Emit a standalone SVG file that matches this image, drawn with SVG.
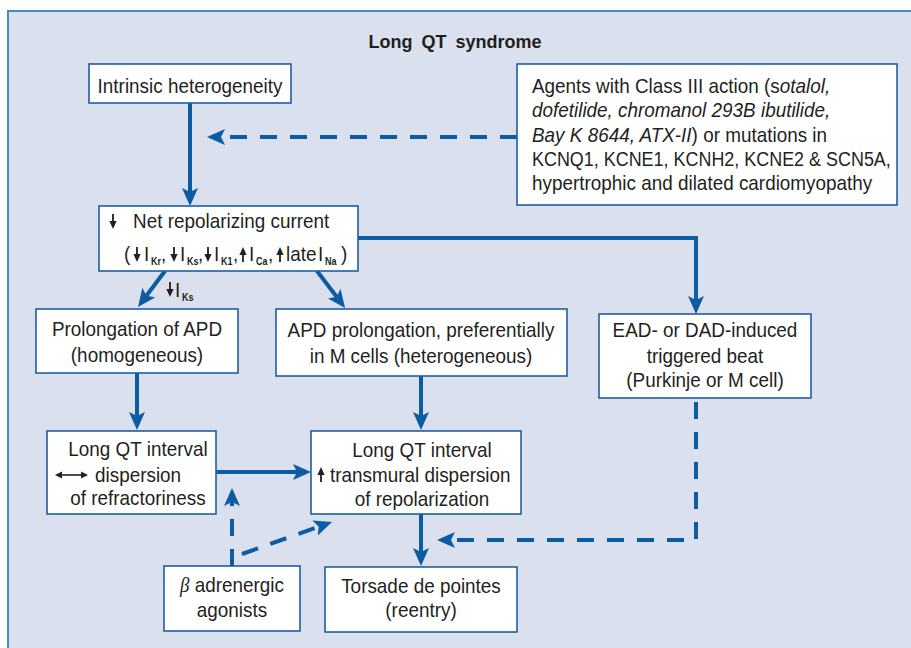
<svg xmlns="http://www.w3.org/2000/svg" width="911" height="648" viewBox="0 0 911 648">
<style>
text{font-family:"Liberation Sans",Arial,sans-serif;font-size:21px;fill:#231f20;transform:scaleX(0.9);transform-box:fill-box;transform-origin:left center}
text.c{text-anchor:middle;transform-origin:center center}
text.t{font-weight:bold;font-size:18px;transform:none}
text.n{transform:scaleX(0.855)}
.it{font-style:italic}
text.sub{font-size:11px;font-weight:bold;transform:scaleX(0.82)}
.box{fill:#fff;stroke:#1d5fa0;stroke-width:1.6}
.ln{fill:none;stroke:#0b5ca3;stroke-width:4}
.da{stroke-dasharray:17 13}
.sym{fill:#231f20;stroke:none}
</style>
<defs>
<marker id="ah" viewBox="0 0 18 16" refX="4" refY="8" markerWidth="18" markerHeight="16" markerUnits="userSpaceOnUse" orient="auto">
<path d="M0,0 L18,8 L0,16 L4,8 z" fill="#0b5ca3"/>
</marker>
<g id="dn"><rect x="-0.9" y="-15" width="1.8" height="9" fill="#231f20"/><path d="M-3.6,-8 L3.6,-8 L0,0 z" fill="#231f20"/></g>
<g id="up"><rect x="-0.9" y="-9" width="1.8" height="9" fill="#231f20"/><path d="M-3.6,-7 L3.6,-7 L0,-15 z" fill="#231f20"/></g>
</defs>
<rect x="8" y="11" width="930" height="660" fill="#dae0ee" stroke="#4a88c4" stroke-width="2"/>
<text x="455" y="48" class="c t" word-spacing="4">Long QT syndrome</text>

<g id="connectors">
<path class="ln" d="M190,103 V192" marker-end="url(#ah)"/>
<path class="ln da" d="M517,137 H221" marker-end="url(#ah)"/>
<path class="ln" d="M358,238 H696 V300" marker-end="url(#ah)"/>
<path class="ln" d="M165,271 L146.4,295.8" marker-end="url(#ah)"/>
<path class="ln" d="M317,271 L336.6,296.8" marker-end="url(#ah)"/>
<path class="ln" d="M137,373 V416" marker-end="url(#ah)"/>
<path class="ln" d="M421,376 V416" marker-end="url(#ah)"/>
<path class="ln" d="M216,472 H297" marker-end="url(#ah)"/>
<path class="ln" d="M421,514 V552" marker-end="url(#ah)"/>
<path class="ln da" d="M696,402 V540 H451" marker-end="url(#ah)"/>
<path class="ln da" d="M232,566 V502" marker-end="url(#ah)"/>
<path class="ln da" d="M242,554 L318.8,526.7" marker-end="url(#ah)"/>
<use href="#dn" x="170" y="297"/>
<text x="175" y="297">I</text><text x="182" y="301" class="sub">Ks</text>
</g>

<g id="intrinsic">
<rect class="box" x="89" y="64" width="202" height="39"/>
<text x="190" y="93" class="c">Intrinsic heterogeneity</text>
</g>

<g id="agents">
<rect class="box" x="517" y="64" width="380" height="141"/>
<text x="532" y="93">Agents with Class III action (s<tspan class="it">otalol,</tspan></text>
<text x="532" y="117" class="it">dofetilide, chromanol 293B ibutilide,</text>
<text x="532" y="142"><tspan class="it">Bay K 8644, ATX-II</tspan>) or mutations in</text>
<text x="532" y="166" class="n">KCNQ1, KCNE1, KCNH2, KCNE2 &amp; SCN5A,</text>
<text x="532" y="190">hypertrophic and dilated cardiomyopathy</text>
</g>

<g id="net">
<rect class="box" x="99" y="206" width="259" height="65"/>
<use href="#dn" x="113" y="229"/>
<text x="133" y="228">Net repolarizing current</text>
<text x="124" y="261">(</text>
<use href="#dn" x="137" y="262"/>
<text x="144" y="261">I</text><text x="151" y="265" class="sub">Kr</text><text x="161" y="261">,</text>
<use href="#dn" x="174" y="262"/>
<text x="180" y="261">I</text><text x="187" y="265" class="sub">Ks</text><text x="198" y="261">,</text>
<use href="#dn" x="208" y="262"/>
<text x="214" y="261">I</text><text x="221" y="265" class="sub">K1</text><text x="233" y="261">,</text>
<use href="#up" x="243" y="262"/>
<text x="249" y="261">I</text><text x="256" y="265" class="sub">Ca</text><text x="268" y="261">,</text>
<use href="#up" x="280" y="262"/>
<text x="286" y="261">late</text><text x="318" y="261">I</text><text x="325" y="265" class="sub">Na</text><text x="341" y="261">)</text>
</g>

<g id="prolong">
<rect class="box" x="36" y="309" width="202" height="64"/>
<text x="137" y="336" class="c">Prolongation of APD</text>
<text x="137" y="362" class="c">(homogeneous)</text>
</g>

<g id="apdm">
<rect class="box" x="276" y="309" width="291" height="67"/>
<text x="421" y="337" class="c">APD prolongation, preferentially</text>
<text x="421" y="363" class="c">in M cells (heterogeneous)</text>
</g>

<g id="ead">
<rect class="box" x="599" y="314" width="212" height="84"/>
<text x="705" y="337" class="c">EAD- or DAD-induced</text>
<text x="705" y="363" class="c">triggered beat</text>
<text x="705" y="387" class="c">(Purkinje or M cell)</text>
</g>

<g id="lqtleft">
<rect class="box" x="47" y="431" width="169" height="83"/>
<text x="138" y="456" class="c">Long QT interval</text>
<path d="M60,475 H82" stroke="#231f20" stroke-width="1.6"/>
<path d="M55,475 L62,471.5 L62,478.5 z M88,475 L81,471.5 L81,478.5 z" class="sym"/>
<text x="95" y="482">dispersion</text>
<text x="138" y="505" class="c">of refractoriness</text>
</g>

<g id="lqtcenter">
<rect class="box" x="311" y="431" width="210" height="83"/>
<text x="422" y="457" class="c">Long QT interval</text>
<use href="#up" x="321" y="482"/>
<text x="330" y="482">transmural dispersion</text>
<text x="422" y="506" class="c">of repolarization</text>
</g>

<g id="beta">
<rect class="box" x="164" y="566" width="136" height="65"/>
<text x="232" y="592" class="c"><tspan style="font-family:'Liberation Serif',serif;font-style:italic">β</tspan> adrenergic</text>
<text x="232" y="617" class="c">agonists</text>
</g>

<g id="torsade">
<rect class="box" x="325" y="567" width="192" height="65"/>
<text x="421" y="593" class="c">Torsade de pointes</text>
<text x="421" y="617" class="c">(reentry)</text>
</g>
</svg>
